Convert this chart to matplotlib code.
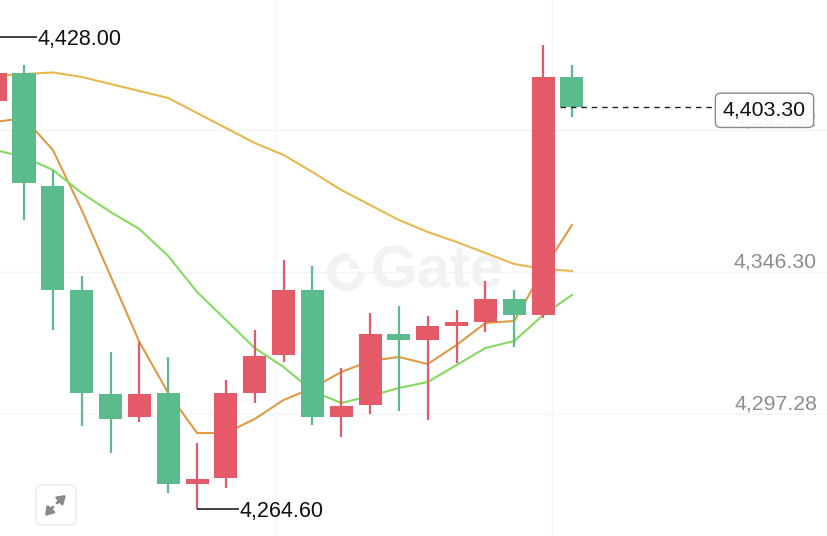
import matplotlib
matplotlib.use("Agg")
import matplotlib.pyplot as plt
from matplotlib.patches import FancyBboxPatch, Wedge

plt.rcParams["font.family"] = ["Liberation Sans", "DejaVu Sans"]

# candles, oldest first (red closes higher, green closes lower)
opens = [4405.33, 4414.99, 4375.99, 4340.09, 4304.19, 4296.25, 4304.53, 4273.12, 4275.19, 4304.53, 4317.65,
         4340.09, 4296.25, 4300.39, 4324.90, 4322.83, 4327.66, 4329.04, 4336.98, 4331.46, 4413.61]
closes = [4414.99, 4377.02, 4340.09, 4304.53, 4295.56, 4304.19, 4273.12, 4274.84, 4304.53, 4317.30, 4340.09,
          4296.25, 4300.04, 4324.90, 4322.83, 4327.66, 4329.04, 4336.98, 4331.46, 4413.61, 4403.30]
highs = [4417.76, 4417.76, 4381.51, 4344.92, 4318.68, 4322.14, 4316.96, 4287.27, 4309.02, 4326.28, 4350.44,
         4348.37, 4313.16, 4332.15, 4334.56, 4331.11, 4333.18, 4343.19, 4340.09, 4424.66, 4417.76]
lows = [4403.00, 4364.25, 4326.28, 4293.14, 4283.82, 4294.52, 4270.01, 4264.60, 4271.74, 4301.08, 4315.23,
        4293.48, 4289.34, 4297.28, 4298.32, 4295.21, 4314.89, 4325.59, 4320.41, 4330.42, 4399.81]

# moving averages
ma_yellow = [4413.96, 4414.65, 4415.17, 4413.61, 4411.20, 4408.78, 4406.36, 4401.19, 4396.01, 4390.83, 4386.69,
             4380.82, 4374.61, 4369.43, 4364.25, 4360.11, 4356.66, 4352.86, 4349.06, 4347.34, 4346.65]
ma_orange = [4398.08, 4399.46, 4388.41, 4367.70, 4344.92, 4322.14, 4304.53, 4290.72, 4290.72, 4295.56, 4302.11,
             4306.26, 4311.78, 4315.58, 4316.96, 4314.54, 4321.10, 4328.69, 4329.39, 4346.99, 4362.52]
ma_green = [4388.41, 4386.00, 4381.51, 4373.57, 4367.01, 4361.14, 4351.82, 4339.40, 4329.73, 4320.06, 4313.51,
            4305.22, 4301.08, 4303.50, 4306.26, 4308.33, 4314.20, 4320.06, 4322.48, 4331.46, 4338.36]

grid_prices = [4395.32, 4346.30, 4297.28]
last_price = 4403.30
top_mark = 4428.00
bottom_mark = 4264.60

RED = "#e55a68"
GREEN = "#5cbb8d"

fig = plt.figure(figsize=(8.28, 5.36), dpi=100, facecolor="white")

# pixel axes for the things that are not data: watermark and expand button
px = fig.add_axes([0, 0, 1, 1], zorder=0)
px.set_xlim(0, 828)
px.set_ylim(536, 0)
px.axis("off")

logo = "#f1f2f4"
px.add_patch(Wedge((346, 272), 19, 0, 285, width=8, color=logo, lw=0))
px.add_patch(Wedge((349, 269), 10, 270, 360, color=logo, lw=0))
px.text(371, 272, "Gate", fontsize=43, fontweight="bold", color=logo, ha="left", va="center")

px.add_patch(FancyBboxPatch((40, 489), 32, 32, boxstyle="round,pad=4,rounding_size=6",
                            fc="white", ec="#f0f0f0", lw=1.5))
for start, end in [((53, 507), (45, 516)), ((57, 503), (66, 495))]:
    px.annotate("", xy=end, xytext=start,
                arrowprops=dict(arrowstyle="-|>,head_length=0.45,head_width=0.3", color="#8a8a8a",
                                lw=2, shrinkA=0, shrinkB=0))

# main chart
ax = fig.add_axes([0, 0, 1, 1], zorder=1)
ax.patch.set_alpha(0)
ax.set_xlim(0.167, 28.88)
ax.set_ylim(4255.17, 4440.19)
ax.axis("off")

# light grid
for p in grid_prices:
    ax.axhline(p, color="#f3f3f3", lw=1, zorder=1)
for g in [9.7, 19.3]:
    ax.axvline(g, color="#f5f5f5", lw=1, zorder=1)

xs = list(range(len(opens)))
ax.plot(xs, ma_yellow, color="#e8b84e", lw=1.5, zorder=2)
ax.plot(xs, ma_orange, color="#df9a45", lw=1.5, zorder=2)
ax.plot(xs, ma_green, color="#86da62", lw=1.5, zorder=2)

for i in xs:
    color = RED if closes[i] >= opens[i] else GREEN
    ax.vlines(i, lows[i], highs[i], color=color, lw=1.6, zorder=3)
    ax.bar(i, abs(closes[i] - opens[i]), bottom=min(opens[i], closes[i]), width=0.8, color=color, zorder=4)

# price labels on the right
right = ax.get_yaxis_transform()
for p in grid_prices:
    ax.annotate(f"{p:,.2f}", xy=(817 / 828, p), xycoords=right, xytext=(0, 7.5), textcoords="offset points",
                ha="right", va="center", fontsize=15.3, color="#8c8c8c", zorder=5)

# current price
ax.hlines(last_price, 19.6, 25, color="#222222", lw=1, linestyles=(0, (4, 3.5)), zorder=5)
ax.text(806 / 828, last_price - 0.5, f"{last_price:,.2f}", transform=right, ha="right", va="center_baseline",
        fontsize=15.3, color="#111111", zorder=6,
        bbox=dict(boxstyle="round,pad=0.36,rounding_size=0.25", fc=(1, 1, 1, 0.92), ec="#8a8a8a", lw=1))

# high and low marks
ax.hlines(top_mark - 0.5, 0.167, 1.45, color="#222222", lw=1.2, zorder=5)
ax.text(1.47, top_mark - 0.5, f"{top_mark:,.2f}", ha="left", va="center_baseline", fontsize=15.5,
        color="#111111", zorder=6)
ax.hlines(bottom_mark, 7, 8.45, color="#222222", lw=1.2, zorder=5)
ax.text(8.47, bottom_mark, f"{bottom_mark:,.2f}", ha="left", va="center_baseline", fontsize=15.5,
        color="#111111", zorder=6)

fig.savefig("out.png", dpi=100)
